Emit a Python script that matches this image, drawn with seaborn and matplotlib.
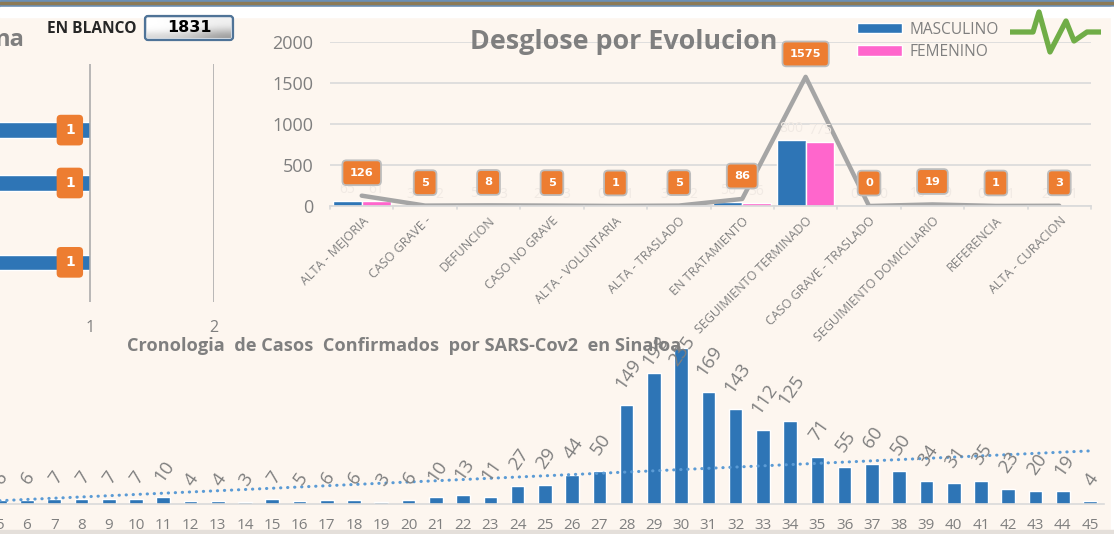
import matplotlib
matplotlib.use("Agg")
import numpy as np
import pandas as pd
import seaborn as sns
import matplotlib.pyplot as plt
from matplotlib.patches import Rectangle, FancyBboxPatch

# ---------- data ----------
left_slots = list(range(9))
left_values = [np.nan, np.nan, 1, np.nan, 1, np.nan, np.nan, 1, np.nan]

evol_categories = ["ALTA - MEJORIA", "CASO GRAVE -", "DEFUNCION", "CASO NO GRAVE",
                   "ALTA - VOLUNTARIA", "ALTA - TRASLADO", "EN TRATAMIENTO",
                   "SEGUIMIENTO TERMINADO", "CASO GRAVE - TRASLADO",
                   "SEGUIMIENTO DOMICILIARIO", "REFERENCIA", "ALTA - CURACION"]
masculino = [65, 3, 5, 2, 0, 3, 50, 800, 0, 10, 0, 2]
femenino = [61, 2, 3, 3, 1, 2, 36, 775, 0, 9, 1, 1]
evol_total = [126, 5, 8, 5, 1, 5, 86, 1575, 0, 19, 1, 3]

weeks = list(range(5, 46))
cases = [6, 6, 7, 7, 7, 7, 10, 4, 4, 3, 7, 5, 6, 6, 3, 6, 10, 13, 11, 27, 29, 44, 50,
         149, 198, 235, 169, 143, 112, 125, 71, 55, 60, 50, 34, 31, 35, 23, 20, 19, 4]
trend_values = [5, 80]   # first and last week

logo_x = [1010, 1033, 1039, 1050, 1066, 1074, 1087, 1101]
logo_y = [32, 32, 12, 52, 21, 41, 32, 32]

# ---------- style ----------
W, H = 1114, 534
BG, BLUE, PINK, ORANGE = "#FDF6EF", "#2E75B6", "#FF66CC", "#ED7D31"
GREY, GRID, LINE = "#7F7F7F", "#DADADA", "#A5A5A5"
sns.set_theme(style="white", rc={"axes.facecolor": "none", "figure.facecolor": BG})
plt.rcParams["font.family"] = ["Open Sans", "DejaVu Sans"]
fig = plt.figure(figsize=(W / 100, H / 100), dpi=100)


def px_axes(x0, y0, x1, y1, **kw):
    return fig.add_axes([x0 / W, 1 - y1 / H, (x1 - x0) / W, (y1 - y0) / H], **kw)


def clean(ax, keep=()):
    for name, sp in ax.spines.items():
        sp.set_visible(name in keep)


# ---------- window chrome and header items (pixel overlay) ----------
ov = px_axes(0, 0, W, H, zorder=0)
ov.set_xlim(0, W); ov.set_ylim(H, 0); ov.axis("off")
ov.add_patch(Rectangle((0, 0), W, 7, color="#6A8FB5"))
ov.add_patch(Rectangle((0, 1.5), W, 2.5, color="#8C7A55"))
ov.add_patch(Rectangle((0, 7), W, 9.5, color="white"))
ov.add_patch(Rectangle((1111, 7), 3, H, color="white"))
ov.add_patch(Rectangle((0, 530), W, 4, color="#E4DFDA"))

top = px_axes(0, 0, W, H, zorder=5)
top.set_xlim(0, W); top.set_ylim(H, 0); top.axis("off")
top.text(24, 40, "na", ha="right", va="center", fontsize=17, fontweight="bold", color=GREY)
top.text(47, 29, "EN BLANCO", va="center", fontsize=11.2, fontweight="bold", color="#262626")
button = FancyBboxPatch((145, 16), 88, 24, boxstyle="round,pad=0,rounding_size=3",
                        fc="#DDE3EA", ec="#4F7397", lw=1.6)
top.add_patch(button)
shade = np.array([[1.0, 0.96, 0.94], [1.0, 0.98, 0.92], [0.98, 0.92, 0.78], [0.85, 0.8, 0.62]])
sheen = top.imshow(shade, extent=(147, 231, 38, 18), cmap="gray", vmin=0, vmax=1,
                   interpolation="bicubic", aspect="auto", zorder=3)
top.set_xlim(0, W); top.set_ylim(H, 0)
top.text(189.5, 27.5, "1831", ha="center", va="center", fontsize=11.5,
         fontweight="bold", color="black", family="DejaVu Sans", zorder=4)
top.plot(logo_x, logo_y, color="#70AD47", lw=3.8, solid_joinstyle="round", solid_capstyle="butt")
top.text(470, 42, "Desglose por Evolucion", va="center", fontsize=19.4,
         fontweight="bold", color=GREY)
top.text(127, 346, "Cronologia  de Casos  Confirmados  por SARS-Cov2  en Sinaloa", va="center",
         fontsize=13.1, fontweight="bold", color=GREY)

# ---------- left horizontal bars ----------
ax = px_axes(-34, 64, 214, 302, zorder=2)
left_df = pd.DataFrame({"slot": left_slots, "value": left_values})
sns.barplot(data=left_df, y="slot", x="value", orient="h", color=BLUE, saturation=1,
            width=0.58, ax=ax)
ax.set_xlim(0, 2); ax.set_ylim(8.5, -0.5)
ax.set_xticks([1, 2]); ax.set_yticks([])
ax.set_xlabel(""); ax.set_ylabel("")
ax.grid(axis="x", color="#A6A6A6", lw=1.1); ax.set_axisbelow(False)
ax.tick_params(axis="x", labelsize=11.5, labelcolor=GREY, length=0, pad=13)
clean(ax)
for slot, v in zip(left_slots, left_values):
    if not np.isnan(v):
        ax.annotate(f"{v:.0f}", (v, slot), xytext=(-14.5, 0), textcoords="offset points",
                    ha="center", va="center", color="white", fontsize=10, fontweight="bold",
                    family="DejaVu Sans",
                    bbox=dict(boxstyle="round,pad=0.6,rounding_size=0.3", fc=ORANGE, ec="none"))

# ---------- evolution chart ----------
ax = px_axes(330, 42, 1091, 206, zorder=2)
evol_df = pd.DataFrame({"cat": evol_categories * 2,
                        "sexo": ["MASCULINO"] * 12 + ["FEMENINO"] * 12,
                        "value": masculino + femenino})
sns.barplot(data=evol_df, x="cat", y="value", hue="sexo", order=evol_categories,
            palette={"MASCULINO": BLUE, "FEMENINO": PINK}, saturation=1, width=0.91, ax=ax)
for container in ax.containers:
    ax.bar_label(container, color="#F1EAE4", fontsize=10, padding=3)
sns.lineplot(x=np.arange(12), y=evol_total, color=LINE, lw=3.2, ax=ax, legend=False)
ax.set_xlim(-0.5, 11.5); ax.set_ylim(0, 2000)
ax.set_yticks([0, 500, 1000, 1500, 2000])
ax.set_xlabel(""); ax.set_ylabel("")
ax.grid(axis="y", color=GRID, lw=1.2); ax.set_axisbelow(True)
ax.tick_params(axis="y", labelsize=13, labelcolor=GREY, length=0, pad=12)
ax.set_xticks(np.arange(12))
ax.set_xticklabels(evol_categories, rotation=45, ha="right", va="top", rotation_mode="anchor",
                   fontsize=9, color=GREY)
ax.tick_params(axis="x", length=0, pad=6)
for label in ax.get_xticklabels():
    label.set_x(label.get_position()[0])
for e in np.arange(-0.5, 12):
    ax.plot([e, e], [0, -0.018], transform=ax.get_xaxis_transform(), color=GRID, lw=1.2,
            clip_on=False)
clean(ax, keep=("bottom",))
ax.spines["bottom"].set_color(GRID)
ax.legend(loc="upper left", bbox_to_anchor=(527 / 761, 1.125), frameon=False, fontsize=11.2,
          labelcolor=GREY, handlelength=2.9, handleheight=0.65, handletextpad=0.5,
          labelspacing=0.42, borderpad=0, borderaxespad=0)
for i, v in enumerate(evol_total):
    ax.annotate(f"{v}", (i, v), xytext=(0, 16.5), textcoords="offset points", ha="center",
                va="center", color="white", fontsize=8.2, fontweight="bold",
                family="DejaVu Sans", zorder=6,
                bbox=dict(boxstyle="round,pad=0.65,rounding_size=0.35", fc=ORANGE,
                          ec="#BDBDBD", lw=1.3))

# ---------- timeline chart ----------
ax = px_axes(-13.9, 340, 1103.6, 504, zorder=3)
week_df = pd.DataFrame({"week": weeks, "cases": cases})
sns.barplot(data=week_df, x="week", y="cases", color=BLUE, saturation=1, width=0.5, ax=ax)
sns.lineplot(x=[0, len(weeks) - 1], y=trend_values, color="#5B9BD5", lw=2.2,
             linestyle=(0, (0.1, 2.2)), dash_capstyle="round", ax=ax, legend=False)
ax.set_xlim(-0.5, 40.5); ax.set_ylim(0, 247)
ax.set_yticks([]); ax.set_xlabel(""); ax.set_ylabel("")
ax.tick_params(axis="x", labelsize=11, labelcolor=GREY, length=0, pad=10)
clean(ax, keep=("bottom",))
ax.spines["bottom"].set_color(GRID); ax.spines["bottom"].set_linewidth(1.2)
label_ceiling = 184  # the tallest labels are held at the top of the plot area
for i, v in enumerate(cases):
    ax.annotate(f"{v}", (i, min(v, label_ceiling)), xytext=(1, 9), textcoords="offset points",
                ha="center", va="bottom", rotation=55, fontsize=13.5, color=GREY,
                annotation_clip=False, zorder=7)

fig.savefig("out.png", dpi=100, facecolor=BG)
